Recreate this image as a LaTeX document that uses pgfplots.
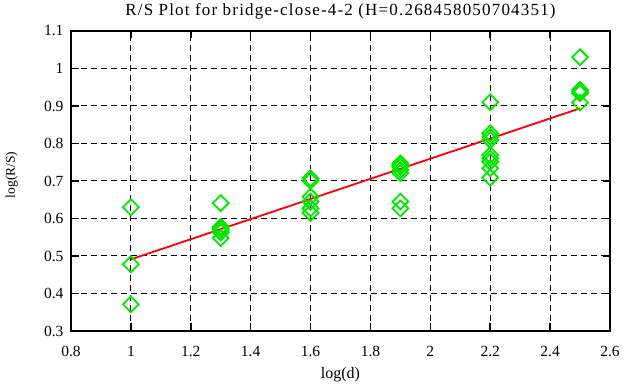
\documentclass[border=0pt]{standalone}
\usepackage{fontspec}
\setmainfont{Liberation Serif}
\usepackage{pgfplots}
\pgfplotsset{compat=1.18}
\definecolor{ptgreen}{RGB}{0,232,0}
\begin{document}
\begin{tikzpicture}[x=1pt,y=1pt]
\path[use as bounding box] (0,0) rectangle (626,387);
\begin{axis}[
  at={(71pt,56pt)}, anchor=south west,
  scale only axis, width=539pt, height=300pt,
  xmin=0.8, xmax=2.6, ymin=0.3, ymax=1.1,
  xtick={0.8,1,1.2,1.4,1.6,1.8,2,2.2,2.4,2.6},
  ytick={0.3,0.4,0.5,0.6,0.7,0.8,0.9,1,1.1},
  xticklabels={0.8,1,1.2,1.4,1.6,1.8,2,2.2,2.4,2.6},
  yticklabels={0.3,0.4,0.5,0.6,0.7,0.8,0.9,1,1.1},
  tick align=inside, tick pos=both,
  major tick length=7.5pt,
  tick style={black, line width=1.5pt},
  axis line style={black, line width=2pt},
  grid=major,
  major grid style={black, line width=1pt, dash pattern=on 6pt off 4pt},
  ticklabel style={font=\fontsize{15.5}{18}\selectfont},
  xticklabel style={anchor=base, yshift=-26pt},
  yticklabel style={anchor=east, xshift=-4pt},
  xlabel={log(d)}, ylabel={log(R/S)},
  xlabel style={font=\fontsize{16}{18}\selectfont, at={(axis description cs:0.5,-0.1567)}, anchor=base},
  ylabel style={font=\fontsize{13.5}{16}\selectfont, at={(axis description cs:-0.1039,0.52)}, anchor=base},
  title={R/S Plot for bridge-close-4-2 (H=0.268458050704351)},
  title style={font=\fontsize{17}{19}\selectfont\addfontfeatures{LetterSpace=7}, at={(axis description cs:0.5,1.0333)}, anchor=base, yshift=0pt},
  clip=false,
]
\addplot[only marks, mark=square, mark size=5.6pt, mark options={rotate=45, draw=ptgreen, line width=1.8pt, fill=none}] coordinates {
 (1,0.630) (1,0.478) (1,0.371)
 (1.3,0.641) (1.3,0.578) (1.3,0.574) (1.3,0.570) (1.3,0.563) (1.3,0.548)
 (1.6,0.707) (1.6,0.700) (1.6,0.658) (1.6,0.645) (1.6,0.627) (1.6,0.615)
 (1.9,0.747) (1.9,0.742) (1.9,0.738) (1.9,0.729) (1.9,0.721) (1.9,0.645) (1.9,0.627)
 (2.2,0.910) (2.2,0.827) (2.2,0.818) (2.2,0.809) (2.2,0.769) (2.2,0.760) (2.2,0.751) (2.2,0.734) (2.2,0.709)
 (2.5,1.030) (2.5,0.943) (2.5,0.938) (2.5,0.934) (2.5,0.909)
};
\addplot[red, line width=1.8pt] coordinates {(1,0.491) (2.5,0.8937)};
\end{axis}
\end{tikzpicture}
\end{document}
